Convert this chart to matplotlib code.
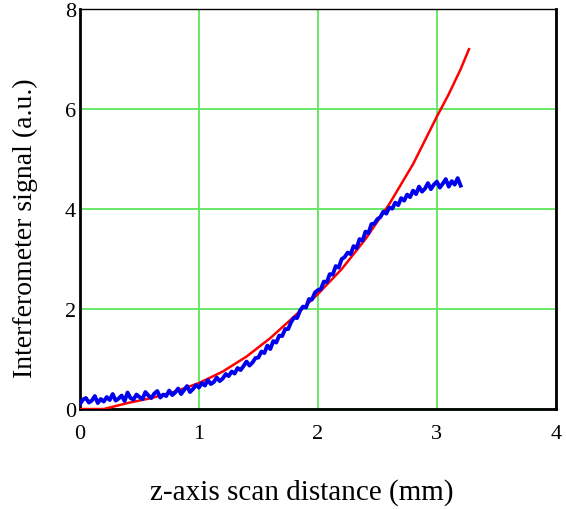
import numpy as np
import matplotlib.pyplot as plt

plt.rcParams['font.family'] = ['Liberation Serif', 'DejaVu Serif']

# modelo (rojo)
fit_x = [0.0, 0.2, 0.4, 0.6, 0.8, 1.0, 1.2, 1.4, 1.6, 1.8, 2.0, 2.2, 2.4,
         2.6, 2.8, 3.0, 3.1, 3.2, 3.27]
fit_y = [0.0, 0.0, 0.12, 0.22, 0.35, 0.52, 0.75, 1.05, 1.42, 1.85, 2.3,
         2.8, 3.4, 4.1, 4.9, 5.85, 6.3, 6.8, 7.2]

# señal medida (azul), paso 0.025 mm
meas_y = [0.10, 0.19, 0.22, 0.13, 0.17, 0.26, 0.12, 0.20, 0.15, 0.24,
          0.18, 0.30, 0.17, 0.21, 0.27, 0.16, 0.33, 0.22, 0.19, 0.29,
          0.24, 0.20, 0.34, 0.27, 0.22, 0.31, 0.36, 0.23, 0.29, 0.26,
          0.37, 0.28, 0.33, 0.41, 0.30, 0.38, 0.46, 0.34, 0.40, 0.48,
          0.43, 0.52, 0.47, 0.58, 0.50, 0.54, 0.63, 0.56, 0.61, 0.70,
          0.66, 0.75, 0.71, 0.82, 0.78, 0.86, 0.95, 0.87, 0.93, 1.02,
          1.03, 1.15, 1.12, 1.27, 1.20, 1.36, 1.33, 1.47, 1.46, 1.60,
          1.60, 1.74, 1.83, 1.82, 1.97, 2.05, 2.03, 2.20, 2.19, 2.33,
          2.38, 2.40, 2.55, 2.54, 2.70, 2.69, 2.86, 2.83, 3.00, 3.04,
          3.13, 3.10, 3.26, 3.22, 3.40, 3.37, 3.55, 3.52, 3.70, 3.71,
          3.80, 3.84, 3.95, 3.91, 4.03, 4.01, 4.13, 4.08, 4.22, 4.17,
          4.29, 4.24, 4.37, 4.30, 4.45, 4.35, 4.41, 4.52, 4.40, 4.49,
          4.55, 4.43, 4.51, 4.60, 4.45, 4.56, 4.49, 4.62, 4.47]
meas_x = np.linspace(0, 3.2, len(meas_y))

x_ticks = [0, 1, 2, 3, 4]
y_ticks = [0, 2, 4, 6, 8]

fig = plt.figure(figsize=(5.66, 5.10), dpi=100)
ax = fig.add_axes([0.1413, 0.196, 0.8407, 0.784])

ax.plot(fit_x, fit_y, color="red", lw=1.8, zorder=3)
ax.plot(meas_x, meas_y, color="#0000ee", lw=2.8, zorder=4)

ax.set_xlim(0, 4)
ax.set_ylim(0, 8)
ax.set_xticks(x_ticks)
ax.set_yticks(y_ticks)
ax.grid(True, color="#66e866", lw=1.4)
ax.set_axisbelow(True)
ax.tick_params(length=0, labelsize=16)
ax.tick_params(axis="x", pad=11)
ax.tick_params(axis="y", pad=3)

for s in ax.spines.values():
    s.set_linewidth(2.0)
    s.set_color("black")
ax.spines["top"].set_linewidth(1.0)

fig.text(302 / 566, 1 - 493 / 510, "z-axis scan distance (mm)", fontsize=21,
         ha="center", va="center")
fig.text(25 / 566, 1 - 228 / 510, "Interferometer signal (a.u.)", fontsize=20,
         ha="center", va="center", rotation=90)

plt.savefig("out.png", dpi=100)
